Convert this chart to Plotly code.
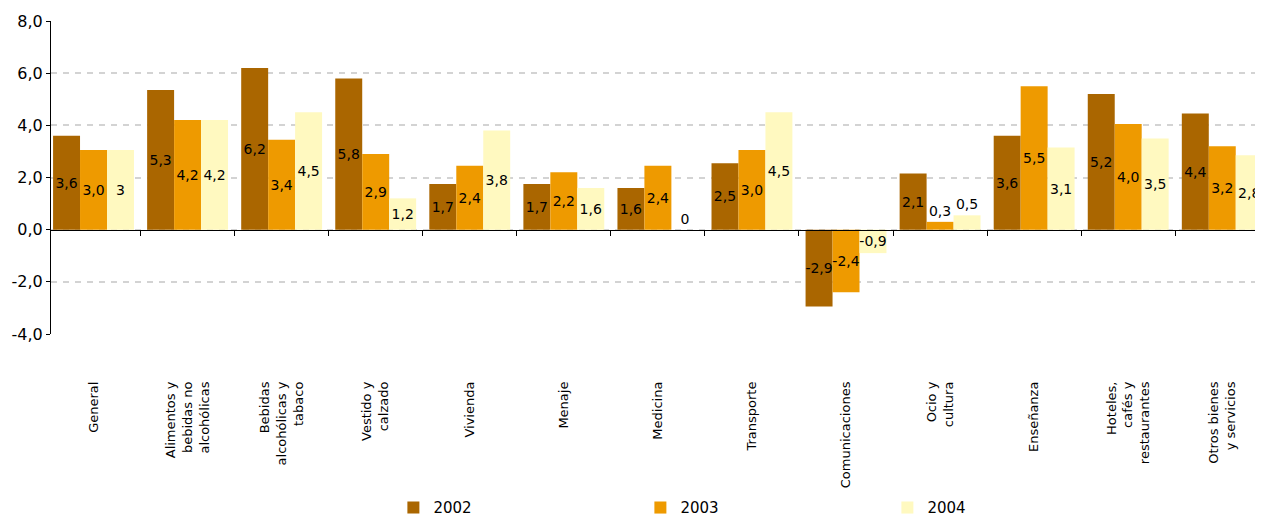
import plotly.graph_objects as go

categories = ["General", "Alimentos y<br>bebidas no<br>alcohólicas", "Bebidas<br>alcohólicas y<br>tabaco",
              "Vestido y<br>calzado", "Vivienda", "Menaje", "Medicina", "Transporte", "Comunicaciones",
              "Ocio y<br>cultura", "Enseñanza", "Hoteles,<br>cafés y<br>restaurantes", "Otros bienes<br>y servicios"]

years = ["2002", "2003", "2004"]
v2002 = [3.6, 5.35, 6.2, 5.8, 1.75, 1.75, 1.6, 2.55, -2.95, 2.15, 3.6, 5.2, 4.45]
v2003 = [3.05, 4.2, 3.45, 2.9, 2.45, 2.2, 2.45, 3.05, -2.4, 0.3, 5.5, 4.05, 3.2]
v2004 = [3.05, 4.2, 4.5, 1.2, 3.8, 1.6, 0.0, 4.5, -0.9, 0.55, 3.15, 3.5, 2.85]

l2002 = ["3,6", "5,3", "6,2", "5,8", "1,7", "1,7", "1,6", "2,5", "-2,9", "2,1", "3,6", "5,2", "4,4"]
l2003 = ["3,0", "4,2", "3,4", "2,9", "2,4", "2,2", "2,4", "3,0", "-2,4", "0,3", "5,5", "4,0", "3,2"]
l2004 = ["3", "4,2", "4,5", "1,2", "3,8", "1,6", "0", "4,5", "-0,9", "0,5", "3,1", "3,5", "2,8"]

y_tickvals = [-4, -2, 0, 2, 4, 6, 8]
y_ticktext = ["-4,0", "-2,0", "0,0", "2,0", "4,0", "6,0", "8,0"]

colors = ["#AA6600", "#EE9A00", "#FFF9C0"]

FONT = "DejaVu Sans"

fig = go.Figure()
for name, vals, labs, col in zip(years, [v2002, v2003, v2004], [l2002, l2003, l2004], colors):
    fig.add_trace(go.Bar(
        x=categories, y=vals, name=name, text=labs,
        textposition=["outside" if abs(v) < 0.6 else "inside" for v in vals],
        insidetextanchor="middle", constraintext="none", textangle=0,
        textfont=dict(family=FONT, size=14, color="black"),
        marker=dict(color=col, line=dict(width=0)),
        cliponaxis=False,
    ))

# helper trace for the category axis drawn at zero
fig.add_trace(go.Scatter(x=categories, y=[0] * len(categories), xaxis="x2", yaxis="y",
                         mode="markers", marker=dict(opacity=0), showlegend=False, hoverinfo="skip"))

ymin, ymax = y_tickvals[0], y_tickvals[-1]
zero_pos = (0 - ymin) / (ymax - ymin)

fig.update_layout(
    width=1255, height=510,
    margin=dict(l=43, r=0, t=13, b=184),
    paper_bgcolor="white", plot_bgcolor="white",
    barmode="group", bargap=0.14, bargroupgap=0,
    font=dict(family=FONT, color="black"),
    showlegend=True,
    legend=dict(orientation="h", x=0.2825, xanchor="left", xref="paper",
                y=0.02, yanchor="middle", yref="container",
                font=dict(family=FONT, size=15, color="black"), entrywidth=202,
                bgcolor="rgba(0,0,0,0)", traceorder="normal"),
    xaxis=dict(type="category", range=[-0.452, 12.433], showline=False, ticks="",
               showgrid=False, zeroline=False, tickangle=-90,
               tickfont=dict(family=FONT, size=13, color="black"),
               ticklabelstandoff=44, automargin=False, fixedrange=True),
    xaxis2=dict(type="category", matches="x", overlaying="x", anchor="free", position=zero_pos,
                showline=True, linecolor="black", linewidth=1, ticks="outside",
                tickson="boundaries", ticklen=5, tickcolor="black", showticklabels=False,
                showgrid=False, zeroline=False),
    yaxis=dict(range=[ymin, ymax], tickvals=y_tickvals, ticktext=y_ticktext,
               showline=True, linecolor="black", linewidth=1, ticks="outside", ticklen=4,
               tickcolor="black", showgrid=True, gridcolor="#D3D3D3", gridwidth=2,
               griddash="6px,6px", zeroline=False,
               tickfont=dict(family=FONT, size=16, color="black"), automargin=False),
)

fig.write_html("out.html")
